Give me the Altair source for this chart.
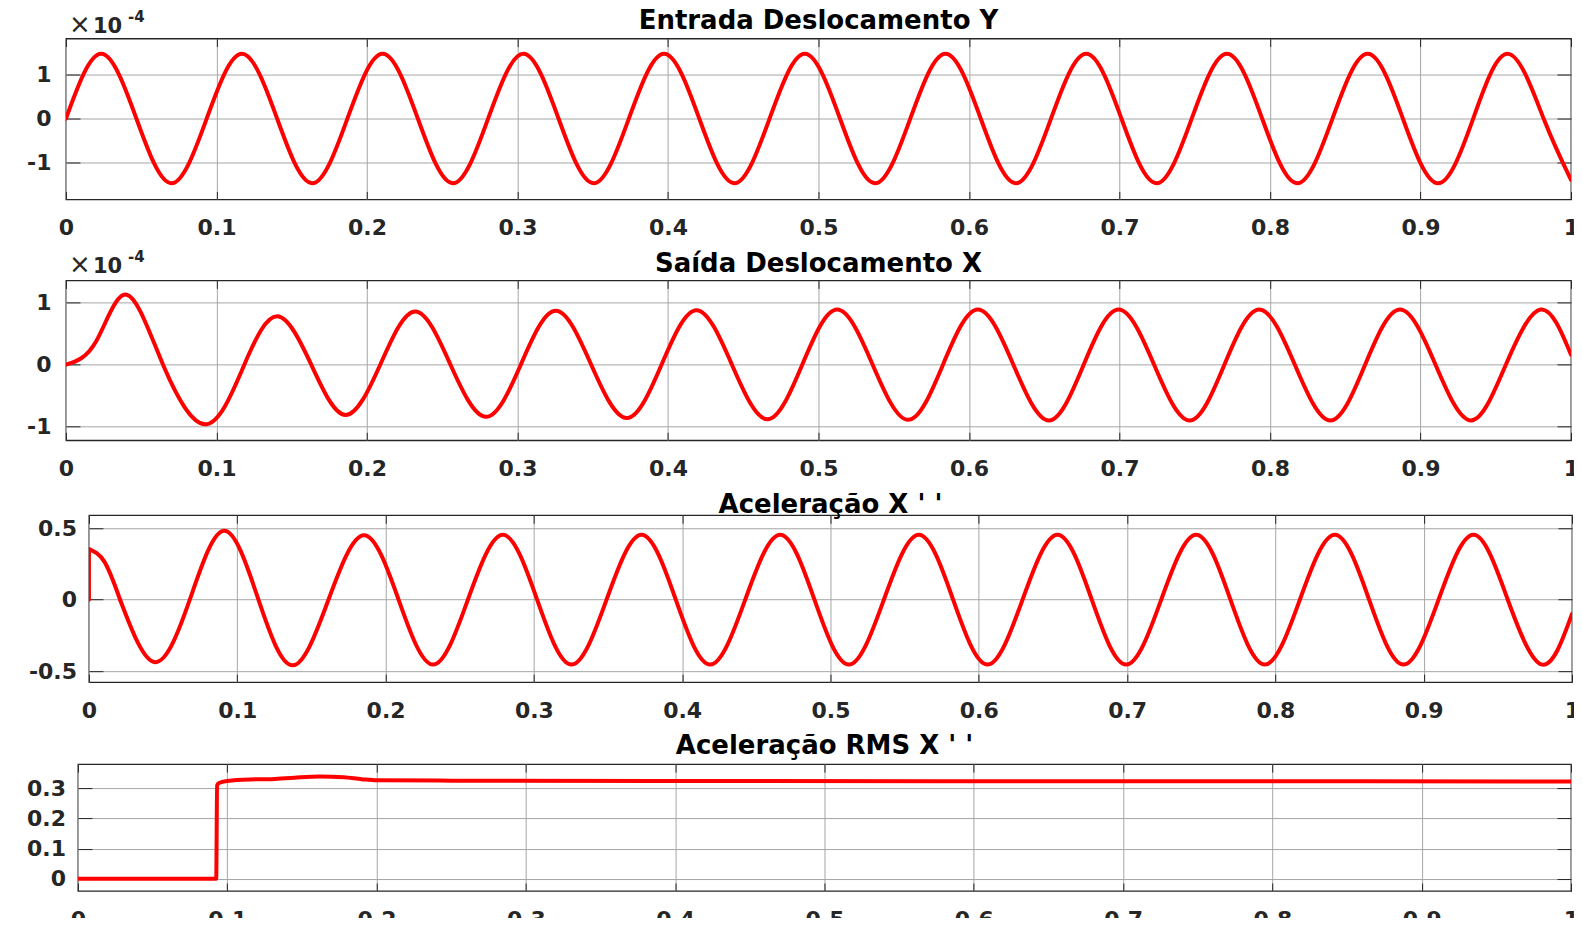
import altair as alt
import pandas as pd

# ---------------- data ----------------
TITLES = ["Entrada Deslocamento Y", "Saída Deslocamento X",
          "Aceleração X ' '", "Aceleração RMS X ' '"]
EXP_TIMES = "×"
EXP_BASE = "10"
EXP_POWER = "-4"

X_TICKS = [0, 0.1, 0.2, 0.3, 0.4, 0.5, 0.6, 0.7, 0.8, 0.9, 1]
Y1_TICKS = [-1, 0, 1]
Y2_TICKS = [-1, 0, 1]
Y3_TICKS = [-0.5, 0, 0.5]
Y4_TICKS = [0, 0.1, 0.2, 0.3]

# Panel 1: input displacement Y (x 1e-4)
x1 = [0.0, 0.0234, 0.0468, 0.0701, 0.0935, 0.1169, 0.1403, 0.1636, 0.1870, 0.2104,
      0.2338, 0.2571, 0.2805, 0.3039, 0.3273, 0.3506, 0.3740, 0.3974, 0.4208, 0.4441,
      0.4675, 0.4909, 0.5143, 0.5376, 0.5610, 0.5844, 0.6078, 0.6311, 0.6545, 0.6779,
      0.7013, 0.7246, 0.7480, 0.7714, 0.7948, 0.8181, 0.8415, 0.8649, 0.8883, 0.9116,
      0.9350, 0.9584, 0.9818, 1.0]
y1 = [0, 1.48, 0, -1.48, 0, 1.48, 0, -1.48, 0, 1.48,
      0, -1.48, 0, 1.48, 0, -1.48, 0, 1.48, 0, -1.48,
      0, 1.48, 0, -1.48, 0, 1.48, 0, -1.48, 0, 1.48,
      0, -1.48, 0, 1.48, 0, -1.48, 0, 1.48, 0, -1.48,
      0, 1.48, 0, -1.40]

# Panel 2: output displacement X (x 1e-4)
x2 = [0.0, 0.0201, 0.0403, 0.0645, 0.0932, 0.1185, 0.1405, 0.1630, 0.1857, 0.2088,
      0.2320, 0.2555, 0.2791, 0.3022, 0.3254, 0.3490, 0.3726, 0.3957, 0.4189, 0.4425,
      0.4661, 0.4892, 0.5124, 0.5360, 0.5596, 0.5827, 0.6059, 0.6295, 0.6531, 0.6762,
      0.6994, 0.7230, 0.7466, 0.7697, 0.7929, 0.8165, 0.8401, 0.8632, 0.8864, 0.9100,
      0.9336, 0.9567, 0.9799, 1.0]
y2 = [0, 0.38, 1.13, 0, -0.96, 0, 0.78, 0, -0.81, 0,
      0.86, 0, -0.84, 0, 0.87, 0, -0.86, 0, 0.88, 0,
      -0.88, 0, 0.89, 0, -0.89, 0, 0.89, 0, -0.90, 0,
      0.89, 0, -0.90, 0, 0.89, 0, -0.90, 0, 0.89, 0,
      -0.90, 0, 0.89, 0.16]

# Panel 3: acceleration X''
x3_step = [0.0, 0.0]
y3_step = [0.0, 0.355]
x3_start = [0.0, 0.0105, 0.021]
y3_start = [0.355, 0.265, 0.0]
x3 = [0.021, 0.0447, 0.0680, 0.0912, 0.1143, 0.1374, 0.1615, 0.1855,
      0.2088, 0.2320, 0.2555, 0.2791, 0.3022, 0.3254, 0.3490, 0.3726, 0.3957, 0.4189,
      0.4425, 0.4661, 0.4892, 0.5124, 0.5360, 0.5596, 0.5827, 0.6059, 0.6295, 0.6531,
      0.6762, 0.6994, 0.7230, 0.7466, 0.7697, 0.7929, 0.8165, 0.8401, 0.8632, 0.8864,
      0.9100, 0.9336, 0.9567, 0.9799, 1.0]
y3 = [0, -0.438, 0, 0.483, 0, -0.46, 0, 0.452,
      0, -0.455, 0, 0.455, 0, -0.455, 0, 0.455, 0, -0.455,
      0, 0.455, 0, -0.455, 0, 0.455, 0, -0.455, 0, 0.455,
      0, -0.455, 0, 0.455, 0, -0.455, 0, 0.455, 0, -0.455,
      0, 0.455, 0, -0.455, -0.10]

# Panel 4: RMS acceleration X''
x4 = [0.0, 0.0926, 0.0932, 0.0945, 0.100, 0.115, 0.130, 0.145, 0.162, 0.178,
      0.190, 0.200, 0.250, 0.400, 0.600, 0.800, 1.000]
y4 = [0.0, 0.0, 0.31, 0.318, 0.325, 0.330, 0.331, 0.336, 0.340, 0.337,
      0.331, 0.327, 0.326, 0.325, 0.324, 0.324, 0.323]

# ---------------- styling ----------------
FONT = "DejaVu Sans"
INK = "#262626"
GRID = "#a6a6a6"
RED = "#ff0000"
LAB = "'' + datum.value"
Y_MIN_EXTENT = 74
TITLE_SIZE = 26
LABEL_SIZE = 22


def ax(**kw):
    base = dict(labelFont=FONT, labelFontSize=LABEL_SIZE, labelFontWeight="bold",
                labelColor=INK, tickColor=INK, tickWidth=1, domain=False,
                title=None, labelOverlap=False, labelExpr=LAB,
                gridColor=GRID, gridWidth=1, labelFlush=False)
    base.update(kw)
    return alt.Axis(**base)


def text_layer(txt, x, y, size, weight, align="left", color=INK):
    return alt.Chart(pd.DataFrame({"t": [txt]})).mark_text(
        font=FONT, fontSize=size, fontWeight=weight, color=color,
        align=align, baseline="alphabetic"
    ).encode(text="t:N", x=alt.value(x), y=alt.value(y))


def panel(title, curves, ydom, yticks, w, h, ypad, tdy, expo=None):
    xs = alt.Scale(domain=[0, 1], nice=False, zero=False)
    ys = alt.Scale(domain=ydom, nice=False, zero=False)
    layers = []
    for i, (xv, yv, interp) in enumerate(curves):
        df = pd.DataFrame({"x": xv, "y": yv})
        if i == 0:
            xa = ax(orient="bottom", values=X_TICKS, offset=-8, tickSize=8,
                    labelPadding=18, grid=True)
            ya = ax(orient="left", values=yticks, offset=-14, tickSize=14,
                    labelPadding=ypad, grid=True, minExtent=Y_MIN_EXTENT)
        else:
            xa = None
            ya = None
        layers.append(alt.Chart(df).mark_line(
            color=RED, strokeWidth=4, interpolate=interp, clip=True,
            strokeCap="round", strokeJoin="round"
        ).encode(x=alt.X("x:Q", scale=xs, axis=xa),
                 y=alt.Y("y:Q", scale=ys, axis=ya)))
    # inner ticks on top and right
    xv, yv, interp = curves[0]
    df = pd.DataFrame({"x": xv, "y": yv})
    layers.append(alt.Chart(df).mark_line(strokeOpacity=0, clip=True).encode(
        x=alt.X("x:Q", scale=xs, axis=ax(orient="top", values=X_TICKS, offset=-8,
                                           tickSize=8, labels=False, grid=False,
                                           minExtent=0)),
        y=alt.Y("y:Q", scale=ys, axis=ax(orient="right", values=yticks, offset=-14,
                                           tickSize=14, labels=False, grid=False,
                                           minExtent=0))))
    layers.append(text_layer(title, w / 2, tdy, TITLE_SIZE, "bold", align="center",
                             color="#000000"))
    if expo is not None:
        layers.append(text_layer(EXP_TIMES, 3, expo, 26, "normal"))
        layers.append(text_layer(EXP_BASE, 27, expo, 21, "bold"))
        layers.append(text_layer(EXP_POWER, 62, expo - 11, 15, "bold"))
    return alt.layer(*layers).resolve_axis(
        x="independent", y="independent").properties(width=w, height=h)


def spacer(w):
    return alt.Chart(pd.DataFrame({"a": [0]})).mark_point(opacity=0).encode(
        x=alt.value(0), y=alt.value(0)
    ).properties(width=w, height=1, view=alt.ViewBackground(stroke="transparent"))


p1 = panel(TITLES[0], [(x1, y1, "natural")], [-1.85, 1.83], Y1_TICKS,
           1506, 161, 15, -10, expo=-6)
p2 = panel(TITLES[1], [(x2, y2, "natural")], [-1.22, 1.36], Y2_TICKS,
           1506, 160, 15, -8.5, expo=-7)
p3 = panel(TITLES[2], [(x3, y3, "natural"), (x3_start, y3_start, "monotone"),
                       (x3_step, y3_step, "linear")],
           [-0.578, 0.592], Y3_TICKS, 1484, 167, 12.5, -2.7)
p4 = panel(TITLES[3], [(x4, y4, "monotone")], [-0.041, 0.381], Y4_TICKS,
           1494, 127, 12.5, -10)

rows = [alt.hconcat(spacer(4.3), p1, spacing=0),
        alt.hconcat(spacer(4.3), p2, spacing=0),
        alt.hconcat(spacer(26.3), p3, spacing=0),
        alt.hconcat(spacer(16.3), p4, spacing=0)]

chart = alt.vconcat(*rows, spacing=10).configure_view(
    stroke=INK, strokeWidth=1.3
).properties(padding={"left": -12, "top": -1.7, "right": -7, "bottom": -13},
             background="white")

chart.save("out.html", embed_options={"renderer": "svg", "actions": False})
